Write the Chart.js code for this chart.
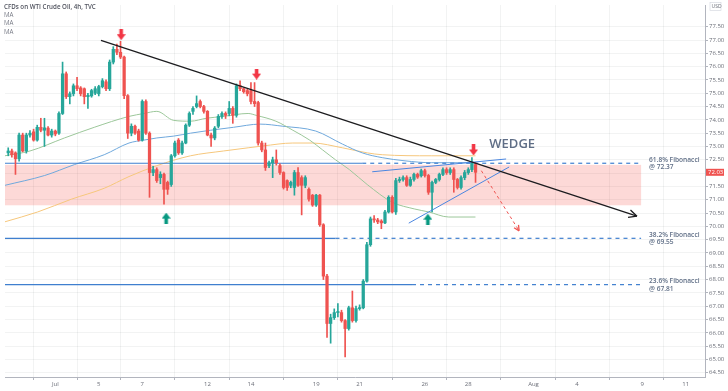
<!DOCTYPE html>
<html><head><meta charset="utf-8">
<script src="https://cdn.jsdelivr.net/npm/chart.js@4.4.1/dist/chart.umd.min.js"></script>
<style>
html,body{margin:0;padding:0;background:#fff;overflow:hidden}
#wrap{position:relative;width:728px;height:391px}
canvas{position:absolute;left:0;top:0}
.hdr{position:absolute;left:4px;font-family:'Open Sans',sans-serif;font-size:6.2px;line-height:8px;color:#787b86;white-space:nowrap}
</style></head><body>
<div id="wrap"><canvas id="c" width="728" height="391"></canvas>
<div class="hdr" style="top:3px;color:#50535e;font-weight:600">CFDs on WTI Crude Oil, 4h, TVC</div>
<div class="hdr" style="top:11px">MA</div>
<div class="hdr" style="top:19.3px">MA</div>
<div class="hdr" style="top:27.7px">MA</div>
</div>
<script>
// ---- axis ticks (x = trading-day index, Jul 1 = 0) ----
const DAY_TICKS = [0,2,4,7,9,12,14,17,19,22,24,27,29];
const DAY_LABELS = ['Jul','5','7','12','14','19','21','26','28','Aug','4','9','11'];
const PRICE_TICKS = [64.5,65,65.5,66,66.5,67,67.5,68,68.5,69,69.5,70,70.5,71,71.5,72,72.5,73,73.5,74,74.5,75,75.5,76,76.5,77,77.5];
const X_MIN = -2.315, X_MAX = 29.89, Y_MIN = 64.34, Y_MAX = 78.315;

// ---- 4h candles (6 per trading day), first candle index -13 ----
const FIRST_CANDLE = -13;
const candleOpen = [72.76,72.83,72.76,72.54,73.43,72.83,73.43,73.55,73.24,73.72,73.61,73.69,73.43,
73.58,73.50,74.24,75.73,74.87,74.98,75.28,75.20,75.17,74.87,74.90,75.00,74.98,75.25,75.43,75.17,76.17,76.65,76.54,76.36,74.91,
73.50,73.76,73.58,73.24,74.69,73.50,72.02,72.13,71.83,71.95,71.65,71.57,72.65,73.24,72.76,73.13,73.80,74.32,74.50,74.69,74.50,74.32,73.43,73.32,73.76,74.13,74.24,74.24,74.43,74.17,75.28,75.17,75.10,75.10,74.69,74.65,73.13,72.87,72.28,72.39,72.50,72.28,72.02,71.72,71.54,71.46,72.02,71.83,71.54,71.39,71.17,70.80,71.17,70.06,68.13,66.35,66.57,66.76,66.76,66.46,66.16,66.94,66.46,66.91,66.94,67.94,69.31,70.28,70.24,70.20,70.13,70.54,71.09,70.54,71.72,71.76,71.83,71.54,71.76,71.95,71.90,72.09,71.91,71.28,71.65,71.76,71.95,72.13,72.02,72.13,71.76,71.46,71.83,72.02,72.13,72.32];
const candleHigh = [72.95,72.90,72.80,73.50,73.50,73.50,73.60,73.65,73.80,74.06,74.06,73.75,73.65,
73.62,74.30,76.17,75.80,75.05,75.35,75.60,75.25,75.20,75.00,75.15,75.25,75.30,75.55,75.50,76.25,76.75,76.85,76.95,76.40,74.95,
73.85,73.80,73.65,74.75,74.75,73.55,72.25,72.20,72.05,72.00,71.70,72.70,73.20,73.30,73.20,73.85,74.30,74.50,74.90,74.75,74.55,74.35,73.50,73.75,74.20,74.30,74.30,74.69,74.50,75.35,75.47,75.20,75.15,75.40,75.40,74.70,73.20,73.13,72.45,72.60,72.87,72.35,72.05,71.75,71.70,72.10,72.21,71.90,71.90,71.45,71.20,71.20,71.20,70.10,68.20,66.70,66.90,67.10,66.85,66.50,67.00,67.57,67.00,67.05,68.00,69.40,70.35,70.40,70.30,70.25,70.60,71.15,71.15,71.80,71.85,71.90,71.90,71.85,72.00,72.00,72.15,72.15,71.95,71.70,71.80,72.00,72.20,72.20,72.20,72.20,71.80,71.90,72.10,72.20,72.58,72.40];
const candleLow = [72.65,72.60,71.95,72.45,72.80,72.75,73.35,73.20,73.20,73.55,73.00,73.40,73.35,
73.40,73.45,74.20,74.80,74.60,74.90,75.10,74.90,74.60,74.43,74.85,74.95,74.90,75.20,75.10,75.10,76.10,76.45,76.30,74.80,73.30,
73.40,73.45,73.20,73.20,73.45,71.09,71.90,71.65,71.60,70.83,71.20,71.50,72.60,72.70,72.70,73.10,73.75,74.20,74.45,74.45,74.25,73.40,73.00,73.25,73.70,74.05,74.05,74.15,73.87,74.10,75.10,75.00,74.90,74.60,74.50,73.05,72.80,72.10,72.20,71.83,72.30,71.95,71.40,71.35,71.45,71.17,71.50,70.43,71.45,70.95,70.75,70.75,70.00,68.00,65.83,65.61,66.50,66.60,66.40,65.09,66.10,66.40,66.40,66.85,66.90,67.90,69.25,70.15,70.10,69.91,70.10,70.50,70.50,70.45,71.65,71.70,71.50,71.50,71.70,71.80,71.85,71.85,71.20,70.54,71.60,71.70,71.90,71.95,71.95,71.28,71.40,71.40,71.75,71.95,72.05,71.65];
const candleClose = [72.83,72.69,72.54,73.43,72.83,73.43,73.50,73.24,73.72,73.61,73.70,73.43,73.58,
73.47,74.24,75.73,74.87,74.98,75.28,75.17,74.98,74.87,74.92,75.10,75.17,75.25,75.47,75.17,76.17,76.65,76.54,76.36,74.91,73.50,
73.76,73.50,73.24,74.69,73.50,72.02,72.13,71.72,71.95,71.39,71.39,72.65,73.13,72.76,73.13,73.80,74.24,74.43,74.61,74.50,74.32,73.43,73.32,73.69,74.13,74.24,74.17,74.43,74.17,75.28,75.17,75.06,74.98,74.69,74.61,73.13,72.87,72.21,72.39,72.50,72.39,72.02,71.46,71.46,71.65,72.02,71.54,71.54,71.83,71.02,70.80,71.17,70.06,68.13,66.35,66.57,66.76,66.80,66.46,66.16,66.94,66.46,66.91,66.94,67.94,69.31,70.28,70.24,70.17,70.13,70.54,71.09,70.54,71.72,71.76,71.83,71.54,71.76,71.95,71.85,72.09,71.91,71.28,71.65,71.76,71.95,72.13,72.02,72.13,71.76,71.46,71.83,72.02,72.13,72.39,72.03];

// ---- moving averages ----
const maFastDay = [-2.32,-1.17,0.42,1.79,3.39,4.08,4.67,5.45,6.22,6.95,7.73,8.87,9.24,10.15,10.93,11.70,12.30,12.89,13.53,14.35,15.49,16.54,17.18,18.10,19.33];
const maFastVal = [72.65,72.83,73.32,73.72,74.13,74.24,74.32,73.98,73.95,74.06,74.13,74.24,74.17,73.95,73.61,73.24,72.87,72.50,72.13,71.57,70.91,70.65,70.54,70.35,70.35];
const maMidDay = [-2.32,-0.49,0.88,2.25,3.39,4.08,4.67,5.45,6.22,7.14,8.19,9.42,10.47,11.98,13.21,14.12,15.04,16.09,17.32,19.33];
const maMidVal = [71.54,71.91,72.32,72.69,73.13,73.24,73.32,73.39,73.50,73.61,73.72,73.84,73.76,73.58,73.09,72.76,72.58,72.46,72.39,72.39];
const maSlowDay = [-2.32,-0.81,0.74,2.25,3.39,4.67,6.22,7.73,8.87,9.56,10.93,11.84,13.21,14.35,15.04,17.32,19.33];
const maSlowVal = [70.17,70.54,71.02,71.43,71.87,72.28,72.65,72.83,72.95,73.02,73.13,73.13,72.95,72.76,72.69,72.65,72.65];

// ---- drawings ----
const fibLevels = [72.37, 69.55, 67.81];
const fibNames = ['61.8% Fibonacci','38.2% Fibonacci','23.6% Fibonacci'];
const fibSolidEnd = [14.12, 12.89, 16.41];
const drawStart = -2.315, drawEnd = 26.95;
const zoneRange = [70.79, 72.31];
const trendDay = [2.10, 26.76], trendVal = [76.99, 70.38];
const wedgeUpDay = [14.58, 20.74], wedgeUpVal = [72.05, 72.53];
const wedgeLoDay = [16.26, 20.88], wedgeLoVal = [70.12, 72.23];
const projDay = [19.60, 21.34], projVal = [72.09, 69.83];
const sellDay = [3.03, 9.26, 19.24], sellVal = [77.20, 75.72, 72.87];
const buyDay = [5.10, 17.14], buyVal = [70.31, 70.27];
const wedgeLabel = {day: 21.02, val: 73.08, text: 'WEDGE'};
const lastPrice = 72.03;

const UP = '#26a69a', DOWN = '#ef5350', FIB = '#3f7fcf', GRID = 'rgba(42,46,57,0.06)', AXIS = '#b2b5be', TXT = '#6b6e78';
const FONT = "'Open Sans', sans-serif";

const pts = (xs, ys) => xs.map((x, i) => ({x, y: ys[i]}));
const candleUp = candleOpen.map((o, i) => candleClose[i] >= o);
const candleDay = candleOpen.map((o, i) => (FIRST_CANDLE + i) / 6);

function arrowImg(color, down) {
  const c = document.createElement('canvas'); c.width = 9; c.height = 11;
  const g = c.getContext('2d'); g.fillStyle = color; g.beginPath();
  if (down) { g.moveTo(2.7,0); g.lineTo(6.3,0); g.lineTo(6.3,5); g.lineTo(9,5); g.lineTo(4.5,11); g.lineTo(0,5); g.lineTo(2.7,5); }
  else { g.moveTo(4.5,0); g.lineTo(9,6); g.lineTo(6.3,6); g.lineTo(6.3,11); g.lineTo(2.7,11); g.lineTo(2.7,6); g.lineTo(0,6); }
  g.closePath(); g.fill(); return c;
}

const lineDs = (label, data, color, width, order, extra) => Object.assign({
  type: 'line', label, data, borderColor: color, borderWidth: width, pointRadius: 0,
  fill: false, order, tension: 0
}, extra || {});

const datasets = [];
datasets.push(lineDs('MA fast', pts(maFastDay, maFastVal), '#9cc79a', 1, 6, {cubicInterpolationMode: 'monotone'}));
datasets.push(lineDs('MA mid', pts(maMidDay, maMidVal), '#6fa8dc', 1, 6, {cubicInterpolationMode: 'monotone'}));
datasets.push(lineDs('MA slow', pts(maSlowDay, maSlowVal), '#f6c77c', 1, 6, {cubicInterpolationMode: 'monotone'}));
fibLevels.forEach((lv, k) => {
  datasets.push(lineDs('fib solid ' + k, [{x: drawStart, y: lv}, {x: fibSolidEnd[k], y: lv}], FIB, 1.2, 5));
  datasets.push(lineDs('fib dash ' + k, [{x: fibSolidEnd[k], y: lv}, {x: drawEnd, y: lv}], FIB, 1.2, 5, {borderDash: [4, 4]}));
});
datasets.push({
  type: 'bar', label: 'wick', data: candleDay.map((d, i) => ({x: d, y: [candleLow[i], candleHigh[i]]})),
  backgroundColor: ctx => candleUp[ctx.dataIndex] ? UP : DOWN, borderWidth: 0,
  barThickness: 1, grouped: false, minBarLength: 1, order: 4
});
datasets.push({
  type: 'bar', label: 'body', data: candleDay.map((d, i) => ({x: d, y: [candleOpen[i], candleClose[i]]})),
  backgroundColor: ctx => candleUp[ctx.dataIndex] ? UP : DOWN, borderWidth: 0,
  barThickness: 2.6, grouped: false, minBarLength: 1, order: 3
});
datasets.push(lineDs('trend', pts(trendDay, trendVal), '#1c1c1f', 1.3, 2));
datasets.push(lineDs('wedge up', pts(wedgeUpDay, wedgeUpVal), '#4a86e0', 1, 2));
datasets.push(lineDs('wedge lo', pts(wedgeLoDay, wedgeLoVal), '#4a86e0', 1, 2));
datasets.push(lineDs('proj', pts(projDay, projVal), '#ef5350', 1, 2, {borderDash: [3, 3]}));
datasets.push(lineDs('sell', pts(sellDay, sellVal), '#f23645', 0, 1, {showLine: false, pointRadius: 5, pointStyle: arrowImg('#f23645', true)}));
datasets.push(lineDs('buy', pts(buyDay, buyVal), '#089981', 0, 1, {showLine: false, pointRadius: 5, pointStyle: arrowImg('#089981', false)}));

function headAt(g, meta, color, len) {
  const p = meta.data; if (p.length < 2) return;
  const a = p[p.length - 2], b = p[p.length - 1];
  const ang = Math.atan2(b.y - a.y, b.x - a.x);
  g.save(); g.strokeStyle = color; g.lineWidth = 1.3; g.setLineDash([]); g.beginPath();
  for (const s of [-1, 1]) {
    g.moveTo(b.x, b.y);
    g.lineTo(b.x - len * Math.cos(ang + s * 0.45), b.y - len * Math.sin(ang + s * 0.45));
  }
  g.stroke(); g.restore();
}

const annot = {
  id: 'annot',
  beforeDatasetsDraw(chart) {
    const g = chart.ctx, xs = chart.scales.x, ys = chart.scales.y;
    const x0 = xs.getPixelForValue(drawStart), x1 = xs.getPixelForValue(drawEnd);
    const y0 = ys.getPixelForValue(zoneRange[1]), y1 = ys.getPixelForValue(zoneRange[0]);
    g.save(); g.fillStyle = 'rgba(244,67,54,0.2)'; g.fillRect(x0, y0, x1 - x0, y1 - y0); g.restore();
  },
  afterDraw(chart) {
    const g = chart.ctx, xs = chart.scales.x, ys = chart.scales.y;
    chart.data.datasets.forEach((ds, i) => {
      if (ds.label === 'trend') headAt(g, chart.getDatasetMeta(i), '#1c1c1f', 9);
      if (ds.label === 'proj') headAt(g, chart.getDatasetMeta(i), '#ef5350', 6);
    });
    g.save();
    const lx = xs.getPixelForValue(drawEnd) + 8;
    g.fillStyle = '#5f6e86'; g.font = "600 6.6px " + FONT; g.textBaseline = 'middle'; g.textAlign = 'left';
    fibLevels.forEach((lv, k) => {
      const y = ys.getPixelForValue(lv);
      g.fillText(fibNames[k], lx, y - 3.5);
      g.fillText('@ ' + lv.toFixed(2), lx, y + 4);
    });
    g.font = "600 13px " + FONT; g.textAlign = 'center';
    g.fillText(wedgeLabel.text, xs.getPixelForValue(wedgeLabel.day), ys.getPixelForValue(wedgeLabel.val));
    const py = ys.getPixelForValue(lastPrice);
    g.fillStyle = '#ef5350'; g.fillRect(706, py - 3.5, 18, 7);
    g.fillStyle = '#fff'; g.font = "6px " + FONT; g.textAlign = 'left';
    g.fillText(lastPrice.toFixed(2), 708, py);
    g.strokeStyle = '#d1d4dc'; g.lineWidth = 0.6; g.strokeRect(710, 2.5, 11, 8);
    g.fillStyle = TXT; g.font = "5px " + FONT; g.fillText('USD', 711.5, 6.7);
    g.restore();
  }
};

new Chart(document.getElementById('c'), {
  type: 'bar',
  data: {datasets},
  options: {
    responsive: false, animation: false, devicePixelRatio: 1, events: [],
    layout: {padding: 0},
    plugins: {legend: {display: false}, tooltip: {enabled: false}},
    scales: {
      x: {
        type: 'linear', min: X_MIN, max: X_MAX, offset: false,
        afterBuildTicks: s => { s.ticks = DAY_TICKS.map(v => ({value: v})); },
        afterFit: s => { s.height = 14; },
        ticks: {autoSkip: false, maxRotation: 0, padding: 1, color: TXT, font: {size: 6, family: FONT},
          callback: v => { const i = DAY_TICKS.indexOf(v); return i >= 0 ? DAY_LABELS[i] : ''; }},
        grid: {color: GRID, tickColor: AXIS, tickLength: 3},
        border: {color: AXIS}
      },
      y: {
        type: 'linear', position: 'right', min: Y_MIN, max: Y_MAX,
        afterBuildTicks: s => { s.ticks = PRICE_TICKS.map(v => ({value: v})); },
        afterFit: s => { s.width = 23; },
        ticks: {padding: 1, color: TXT, font: {size: 6, family: FONT}, callback: v => Number(v).toFixed(2)},
        grid: {color: GRID, tickColor: AXIS, tickLength: 3},
        border: {color: AXIS}
      }
    }
  },
  plugins: [annot]
});
</script>
</body></html>
